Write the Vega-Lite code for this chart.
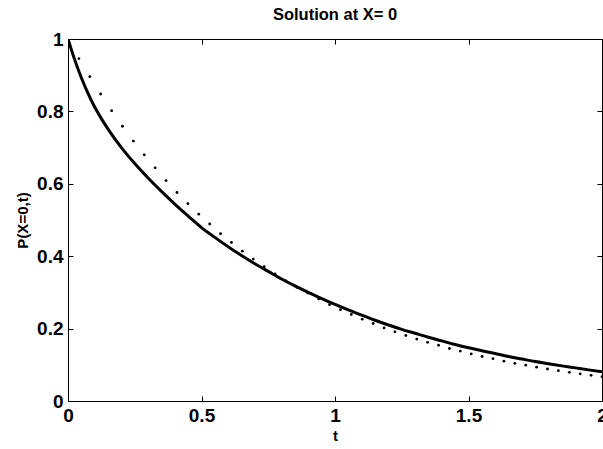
{
  "$schema": "https://vega.github.io/schema/vega-lite/v6.json",
  "width": 534,
  "height": 362,
  "autosize": "none",
  "padding": {"left": 68, "top": 39, "right": 1, "bottom": 48},
  "background": "white",
  "config": {
    "view": {"stroke": "black", "strokeWidth": 1},
    "font": "Liberation Sans",
    "axis": {
      "grid": false,
      "domainColor": "black",
      "domainWidth": 1,
      "tickColor": "black",
      "tickWidth": 1,
      "tickSize": -5,
      "labelColor": "black",
      "labelFont": "Liberation Sans",
      "labelFontWeight": "bold",
      "labelFontSize": 19,
      "labelFlush": false,
      "labelOverlap": false,
      "titleFont": "Liberation Sans",
      "titleFontWeight": "bold",
      "titleFontSize": 15,
      "titleColor": "black"
    }
  },
  "title": {
    "text": "Solution at X= 0",
    "font": "Liberation Sans",
    "fontSize": 16.5,
    "fontWeight": "bold",
    "color": "black",
    "anchor": "middle",
    "frame": "group",
    "offset": 7
  },
  "datasets": {
    "solid": [
      {"t": 0, "P": 1.0}, {"t": 0.025, "P": 0.943}, {"t": 0.05, "P": 0.893}, {"t": 0.075, "P": 0.85},
      {"t": 0.1, "P": 0.812}, {"t": 0.125, "P": 0.78}, {"t": 0.15, "P": 0.751},
      {"t": 0.2, "P": 0.7}, {"t": 0.25, "P": 0.656}, {"t": 0.3, "P": 0.616}, {"t": 0.35, "P": 0.579},
      {"t": 0.4, "P": 0.544}, {"t": 0.45, "P": 0.511}, {"t": 0.5, "P": 0.479}, {"t": 0.55, "P": 0.452},
      {"t": 0.6, "P": 0.426}, {"t": 0.65, "P": 0.402}, {"t": 0.7, "P": 0.379}, {"t": 0.75, "P": 0.358},
      {"t": 0.8, "P": 0.337}, {"t": 0.85, "P": 0.318}, {"t": 0.9, "P": 0.3}, {"t": 0.95, "P": 0.283},
      {"t": 1.0, "P": 0.267}, {"t": 1.05, "P": 0.2515}, {"t": 1.1, "P": 0.237}, {"t": 1.15, "P": 0.223},
      {"t": 1.2, "P": 0.21}, {"t": 1.25, "P": 0.198}, {"t": 1.3, "P": 0.187}, {"t": 1.35, "P": 0.176},
      {"t": 1.4, "P": 0.166}, {"t": 1.45, "P": 0.156}, {"t": 1.5, "P": 0.147}, {"t": 1.55, "P": 0.139},
      {"t": 1.6, "P": 0.131}, {"t": 1.65, "P": 0.123}, {"t": 1.7, "P": 0.116}, {"t": 1.75, "P": 0.109},
      {"t": 1.8, "P": 0.103}, {"t": 1.85, "P": 0.097}, {"t": 1.9, "P": 0.0915}, {"t": 1.95, "P": 0.086},
      {"t": 2.0, "P": 0.081}
    ],
    "dotted": [
      {"t": 0, "P": 1.0}, {"t": 0.0408, "P": 0.946}, {"t": 0.0816, "P": 0.896}, {"t": 0.1224, "P": 0.848},
      {"t": 0.1633, "P": 0.802}, {"t": 0.2041, "P": 0.759}, {"t": 0.2449, "P": 0.718}, {"t": 0.2857, "P": 0.68},
      {"t": 0.3265, "P": 0.644}, {"t": 0.3673, "P": 0.609}, {"t": 0.4082, "P": 0.576}, {"t": 0.449, "P": 0.545},
      {"t": 0.4898, "P": 0.516}, {"t": 0.5306, "P": 0.489}, {"t": 0.5714, "P": 0.462}, {"t": 0.6122, "P": 0.438},
      {"t": 0.6531, "P": 0.414}, {"t": 0.6939, "P": 0.392}, {"t": 0.7347, "P": 0.371}, {"t": 0.7755, "P": 0.351},
      {"t": 0.8163, "P": 0.332}, {"t": 0.8571, "P": 0.314}, {"t": 0.898, "P": 0.298}, {"t": 0.9388, "P": 0.282},
      {"t": 0.9796, "P": 0.266}, {"t": 1.0204, "P": 0.252}, {"t": 1.0612, "P": 0.239}, {"t": 1.102, "P": 0.226},
      {"t": 1.1429, "P": 0.214}, {"t": 1.1837, "P": 0.202}, {"t": 1.2245, "P": 0.191}, {"t": 1.2653, "P": 0.181},
      {"t": 1.3061, "P": 0.171}, {"t": 1.3469, "P": 0.162}, {"t": 1.3878, "P": 0.154}, {"t": 1.4286, "P": 0.145},
      {"t": 1.4694, "P": 0.138}, {"t": 1.5102, "P": 0.13}, {"t": 1.551, "P": 0.123}, {"t": 1.5918, "P": 0.117},
      {"t": 1.6327, "P": 0.11}, {"t": 1.6735, "P": 0.104}, {"t": 1.7143, "P": 0.099}, {"t": 1.7551, "P": 0.0935},
      {"t": 1.7959, "P": 0.0885}, {"t": 1.8367, "P": 0.0838}, {"t": 1.8776, "P": 0.0793}, {"t": 1.9184, "P": 0.075},
      {"t": 1.9592, "P": 0.071}, {"t": 2.0, "P": 0.0672}
    ]
  },
  "layer": [
    {
      "data": {"name": "dotted"},
      "mark": {"type": "point", "filled": true, "color": "black", "size": 8, "opacity": 1, "clip": true},
      "encoding": {
        "x": {"field": "t", "type": "quantitative", "scale": {"domain": [0, 2], "nice": false, "zero": false},
              "axis": {"orient": "top", "values": [0, 0.5, 1, 1.5, 2], "labels": false, "title": null, "domain": false}},
        "y": {"field": "P", "type": "quantitative", "scale": {"domain": [0, 1], "nice": false},
              "axis": {"orient": "right", "values": [0, 0.2, 0.4, 0.6, 0.8, 1], "labels": false, "title": null, "domain": false}}
      }
    },
    {
      "data": {"name": "solid"},
      "mark": {"type": "line", "color": "black", "strokeWidth": 3, "clip": true, "interpolate": "monotone"},
      "encoding": {
        "x": {"field": "t", "type": "quantitative",
              "axis": {"orient": "bottom", "values": [0, 0.5, 1, 1.5, 2], "format": "~g", "title": "t", "labelPadding": 10, "titlePadding": 3}},
        "y": {"field": "P", "type": "quantitative",
              "axis": {"orient": "left", "values": [0, 0.2, 0.4, 0.6, 0.8, 1], "format": "~g", "title": "P(X=0,t)", "labelPadding": 10, "titlePadding": 6}}
      }
    }
  ],
  "resolve": {"axis": {"x": "independent", "y": "independent"}}
}
